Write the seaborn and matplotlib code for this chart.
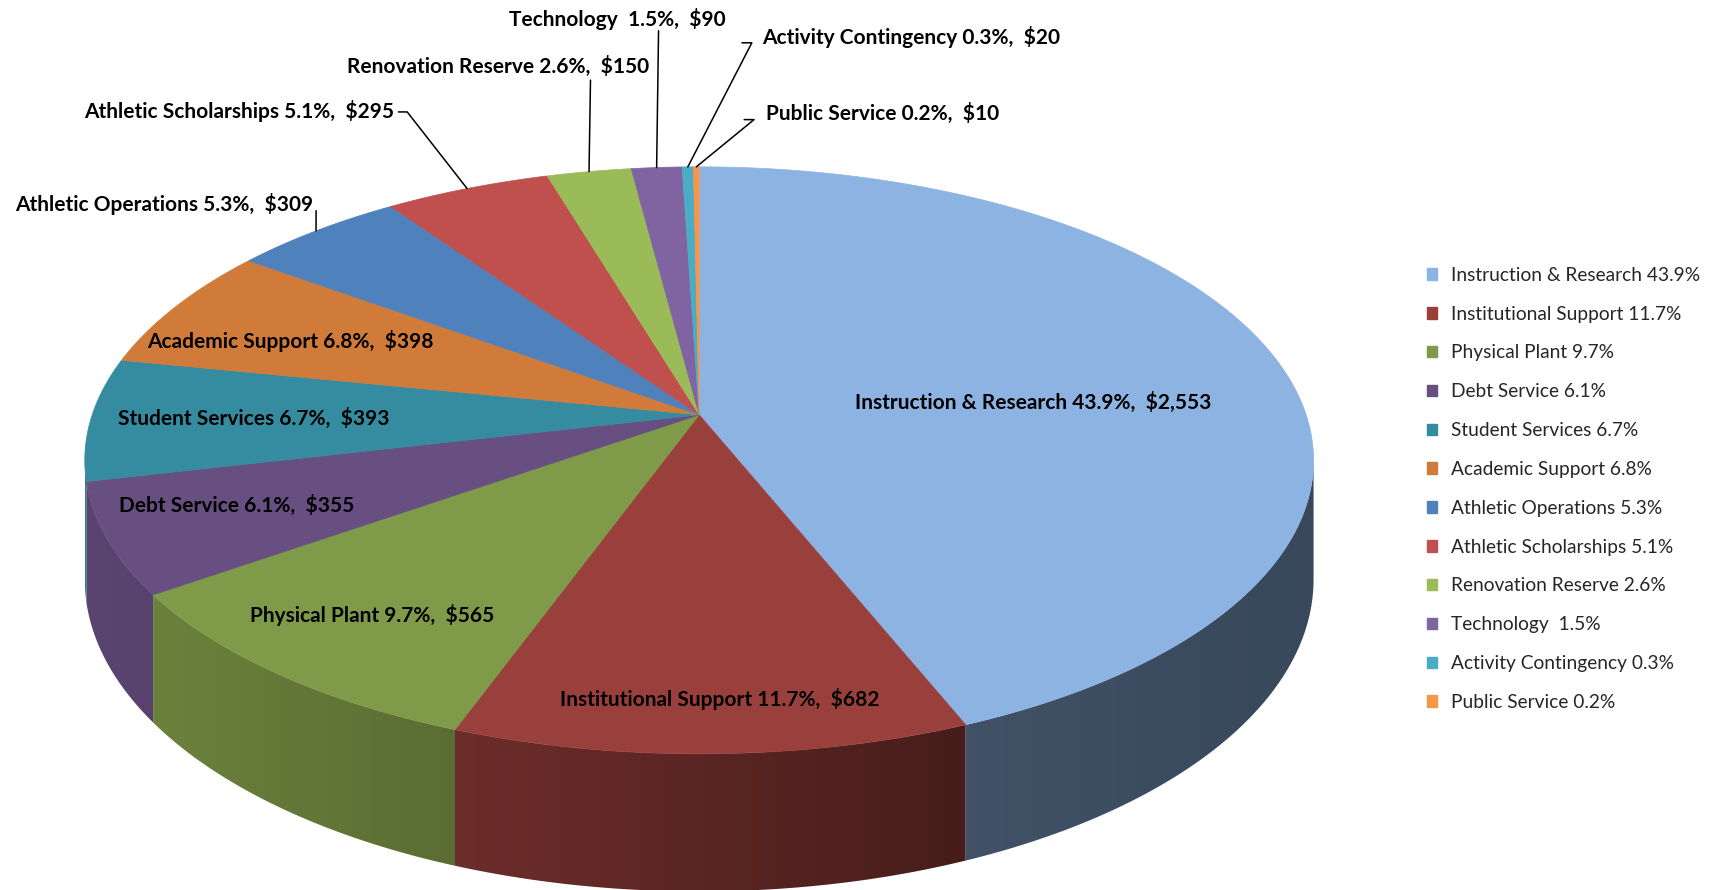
import numpy as np
import matplotlib
matplotlib.use("Agg")
import matplotlib.pyplot as plt
import seaborn as sns
from matplotlib.patches import Polygon, Patch
import matplotlib.colors as mcolors

# ---------------- data ----------------
categories = ["Instruction & Research", "Institutional Support", "Physical Plant",
              "Debt Service", "Student Services", "Academic Support",
              "Athletic Operations", "Athletic Scholarships", "Renovation Reserve",
              "Technology ", "Activity Contingency", "Public Service"]
values = [2553, 682, 565, 355, 393, 398, 309, 295, 150, 90, 20, 10]
percents = [43.9, 11.7, 9.7, 6.1, 6.7, 6.8, 5.3, 5.1, 2.6, 1.5, 0.3, 0.2]
colors = ["#8DB3E2", "#9A403C", "#7F9A48", "#674F82", "#358CA0", "#D17B3A",
          "#4F81BD", "#C0504D", "#9BBB59", "#8064A2", "#4BACC6", "#F79646"]

# ---------------- style ----------------
sns.set_theme(style="white")
plt.rcParams['font.family'] = ['Lato', 'DejaVu Sans']

fig = plt.figure(figsize=(17.21, 8.90), dpi=100)
ax = fig.add_axes([0, 0, 1, 1])

# geometry of the tilted (perspective) pie, in reference display units
CX, CY, A, B, P, D = 637, 378, 261, 553, 0.155, 106
LEFT, WIDTH = CX - 560, 1121


def proj(phi, drop=0.0):
    X = np.sin(phi)
    Y = np.cos(phi)
    s = 1.0 / (1.0 + P * Y)
    return CX + B * X * s, CY - A * Y * s + D * drop * s


total = float(sum(values))
bounds = np.concatenate([[0.0], np.cumsum(values)]) / total * 2 * np.pi

# ---- side walls: only the visible front part, filled with a horizontal gradient ----
vis0, vis1 = np.arccos(-P), 2 * np.pi - np.arccos(-P)
grad = np.linspace(0, 1, 512)
shade = np.interp(grad, [0.0, 0.3, 0.71, 1.0], [0.87, 0.71, 0.46, 0.40])
for i, c in enumerate(colors):
    a0, a1 = max(bounds[i], vis0), min(bounds[i + 1], vis1)
    if a1 <= a0:
        continue
    n = max(4, int(np.degrees(a1 - a0) * 3))
    ph = np.linspace(a0, a1, n + 1)
    xt, yt = proj(ph)
    xb, yb = proj(ph[::-1], 1)
    pts = list(zip(xt, yt)) + list(zip(xb, yb))
    poly = Polygon(pts, closed=True, facecolor="none", edgecolor="none", zorder=1)
    ax.add_patch(poly)
    base = np.array(mcolors.to_rgb(c))
    img = np.clip(base[None, None, :] * shade[None, :, None], 0, 1)
    im = ax.imshow(img, extent=(LEFT, LEFT + WIDTH, 811, 0), aspect="auto",
                   interpolation="bilinear", zorder=1)
    im.set_clip_path(poly)

# ---- top faces ----
for i, c in enumerate(colors):
    a0, a1 = bounds[i], bounds[i + 1]
    n = max(3, int(np.degrees(a1 - a0) * 3))
    ph = np.linspace(a0, a1, n + 1)
    xs, ys = proj(ph)
    pts = [(CX, CY)] + list(zip(xs, ys))
    ax.add_patch(Polygon(pts, closed=True, facecolor=c, edgecolor=c,
                         linewidth=0.5, zorder=2))

# ---- data labels ----
labels = [f"{n} {p:.1f}%,  ${v:,}" for n, p, v in zip(categories, percents, values)]
label_pos = [(941, 367), (656, 637), (339, 560), (216, 461), (231, 381), (265, 311),
             (150, 186), (218, 101), (454, 61), (562, 17), (830, 34), (804, 103)]
for lab, (x, y) in zip(labels, label_pos):
    ax.text(x, y, lab, ha="center", va="center", fontsize=15,
            fontweight="bold", color="black", zorder=5)

# leader lines: from slice mid point on the rim to the label
leaders = {6: [(288, 192)], 7: [(371, 102), (363, 102)], 8: [(538, 73)],
           9: [(600, 28)], 10: [(685, 39), (676, 39)], 11: [(687, 109), (678, 109)]}
for i, pts in leaders.items():
    mid = 0.5 * (bounds[i] + bounds[i + 1])
    rx, ry = proj(mid)
    xs = [rx] + [p[0] for p in pts]
    ys = [ry] + [p[1] for p in pts]
    ax.plot(xs, ys, color="black", linewidth=1.1, zorder=4)

# ---- legend ----
handles = [Patch(facecolor=c, edgecolor=c) for c in colors]
leg_labels = [f"{n} {p:.1f}%" for n, p in zip(categories, percents)]
ax.legend(handles, leg_labels, loc="upper left", bbox_to_anchor=(1300 / 1568, 1 - 243 / 811),
          frameon=False, fontsize=13.8, handlelength=0.55, handleheight=0.55,
          handletextpad=0.7, labelspacing=1.14, borderaxespad=0, borderpad=0)

ax.set_xlim(0, 1568)
ax.set_ylim(811, 0)
ax.axis("off")

fig.savefig("out.png", dpi=100)
